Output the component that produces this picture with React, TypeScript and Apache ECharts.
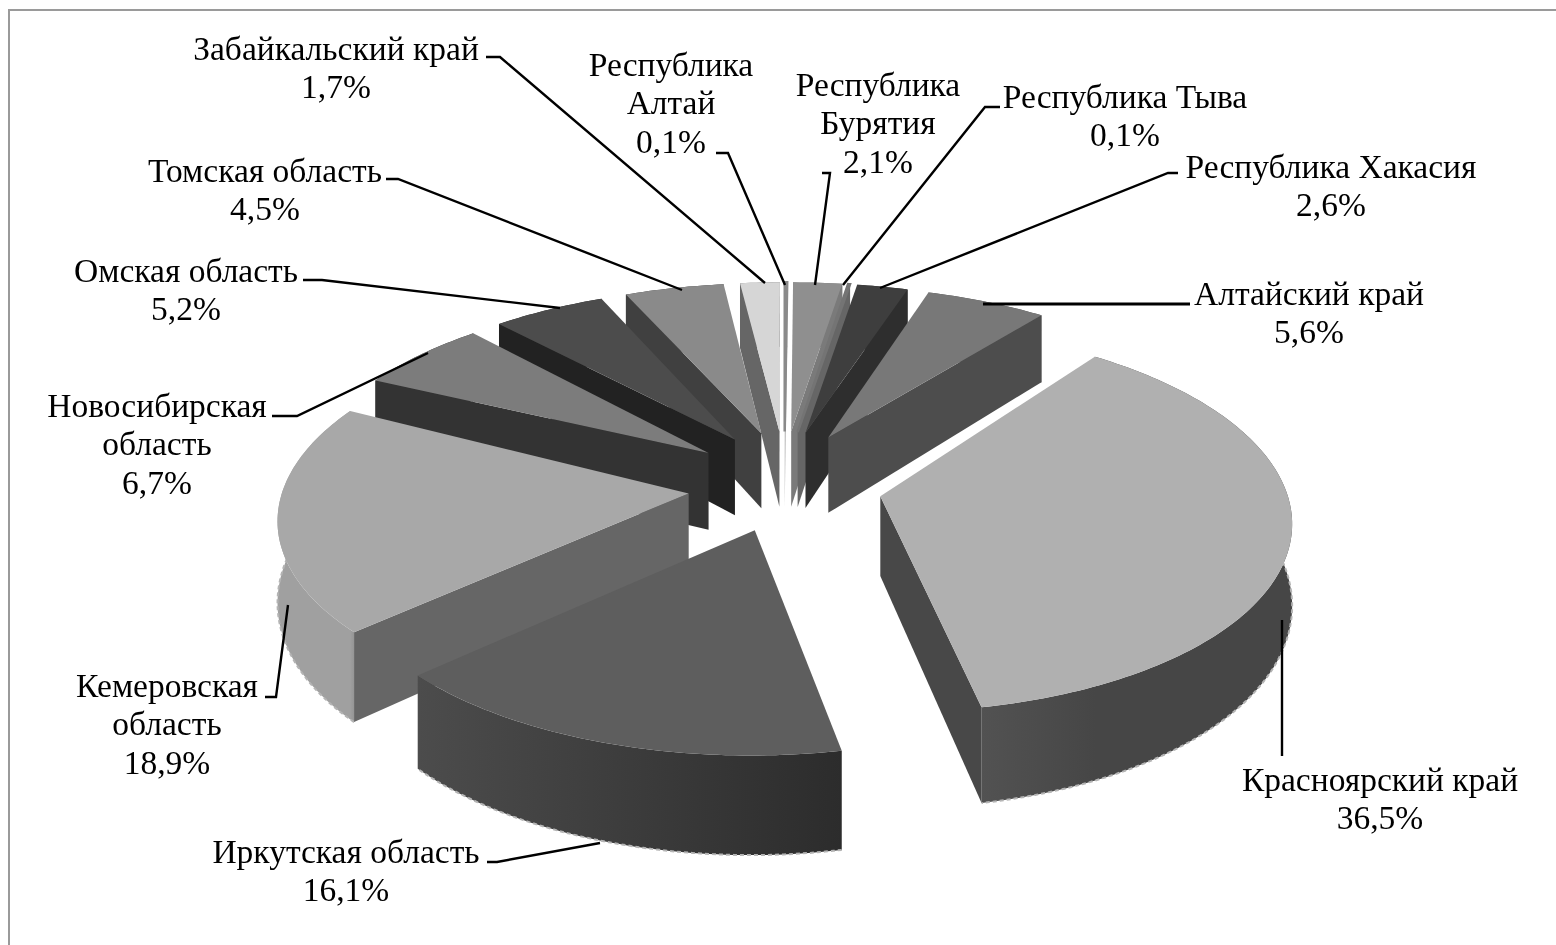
import React, { useEffect, useRef } from "react";
import * as echarts from "echarts";

// Clockwise from the top of the pie
const regionLabels: string[][] = [
  ["Республика", "Бурятия"],
  ["Республика Тыва"],
  ["Республика Хакасия"],
  ["Алтайский край"],
  ["Красноярский край"],
  ["Иркутская область"],
  ["Кемеровская", "область"],
  ["Новосибирская", "область"],
  ["Омская область"],
  ["Томская область"],
  ["Забайкальский край"],
  ["Республика", "Алтай"],
];
const shares: number[] = [2.1, 0.1, 2.6, 5.6, 36.5, 16.1, 18.9, 6.7, 5.2, 4.5, 1.7, 0.1];

// Styles per slice
const topColors = ["#8f8f8f", "#747474", "#3e3e3e", "#787878", "#b0b0b0", "#5e5e5e", "#a8a8a8", "#7c7c7c", "#4c4c4c", "#8a8a8a", "#d6d6d6", "#8a8a8a"];
const wallColors = ["#7a7a7a", "#666666", "#2e2e2e", "#4d4d4d", "#484848", "#666666", "#666666", "#333333", "#222222", "#404040", "#666666", "#b8b8b8"];
const outerLeft = ["#7a7a7a", "#666666", "#2e2e2e", "#4d4d4d", "#525252", "#4c4c4c", "#a0a0a0", "#333333", "#222222", "#404040", "#666666", "#b8b8b8"];
const outerRight = ["#7a7a7a", "#666666", "#2e2e2e", "#4d4d4d", "#464646", "#2c2c2c", "#929292", "#333333", "#222222", "#404040", "#666666", "#b8b8b8"];

// Label layout: centre x, first-line centre y
const labelX = [878, 1125, 1331, 1309, 1380, 346, 167, 157, 186, 265, 336, 671];
const labelY = [84, 96, 166, 293, 779, 851, 685, 405, 270, 170, 48, 64];
const leaderPoints: number[][][] = [
  [[822, 173], [830, 173], [815, 285]],
  [[1000, 107], [985, 107], [843, 285]],
  [[1178, 173], [1168, 173], [880, 288]],
  [[1190, 304], [983, 304]],
  [[1282, 620], [1282, 756]],
  [[487, 862], [497, 862], [600, 843]],
  [[265, 697], [276, 697], [288, 605]],
  [[272, 416], [297, 416], [428, 353]],
  [[303, 280], [322, 280], [560, 308]],
  [[386, 179], [398, 179], [682, 290]],
  [[486, 57], [500, 57], [765, 283]],
  [[716, 153], [728, 153], [785, 285]],
];

// Projection of the tilted pie
const CX = 785, CY = 486, SX = 405, SY = 188, DEPTH = 8.6, HEIGHT = 79, EXPLODE = 0.24, BACK_APEX = 1.25;
const LINE_H = 38.5;
const FONT = "'Liberation Serif', 'Times New Roman', serif";
// The picture's view is slightly skewed: how far the rim's angle drifts from the true one
const warpAt = [6, 21, 39, 106, 169, 228, 295, 321, 341, 356, 366];
const warpBy = [1, -0.7, -0.7, -0.5, 0.2, 1.1, 2.7, 0, 0, 0, 1];

const warp = (deg: number) => {
  const d = deg < 6 ? deg + 360 : deg;
  for (let k = 0; k < warpAt.length - 1; k++) {
    if (d <= warpAt[k + 1]) {
      const t = (d - warpAt[k]) / (warpAt[k + 1] - warpAt[k]);
      return deg + warpBy[k] + t * (warpBy[k + 1] - warpBy[k]);
    }
  }
  return deg + 1;
};

const total = shares.reduce((a, b) => a + b, 0);
const rad = (d: number) => (d * Math.PI) / 180;
const project = (u: number, v: number, z: number): [number, number] => {
  const w = 1 / (1 - v / DEPTH);
  return [CX + SX * u * w, CY + SY * v * w + HEIGHT * z * Math.pow(w, 1.5)];
};
const spans = (() => {
  let acc = 0;
  return shares.map((s) => {
    const a0 = acc;
    acc += (s / total) * 360;
    return [a0, acc];
  });
})();
const depthOf = (i: number) => -Math.cos(rad((spans[i][0] + spans[i][1]) / 2));
const drawOrder = shares.map((_, i) => i).sort((a, b) => depthOf(a) - depthOf(b));

function renderSlice(_: any, api: any) {
  const i = api.value(0) as number;
  const [a0, a1] = spans[i];
  const mid = rad((a0 + a1) / 2);
  const ax = EXPLODE * Math.sin(mid), ay = -EXPLODE * Math.cos(mid);
  const steps = Math.max(2, Math.ceil(a1 - a0));
  const rim = (z: number) => {
    const out: [number, number][] = [];
    for (let k = 0; k <= steps; k++) {
      const t = rad(warp(a0 + ((a1 - a0) * k) / steps));
      out.push(project(ax + Math.sin(t), ay - Math.cos(t), z));
    }
    return out;
  };
  const topRim = rim(0), botRim = rim(1);
  const apexV = ay < 0 ? ay * BACK_APEX : ay;
  const apexT = project(ax, apexV, 0), apexB = project(ax, apexV, 1);
  const last = topRim.length - 1;
  const outerFill = {
    type: "linear", global: true,
    x: Math.min(topRim[0][0], topRim[last][0]), y: 0,
    x2: Math.max(topRim[0][0], topRim[last][0]) + 1, y2: 0,
    colorStops: [{ offset: 0, color: outerLeft[i] }, { offset: 1, color: outerRight[i] }],
  };
  const children: any[] = [
    { type: "polygon", shape: { points: [...topRim, ...botRim.slice().reverse()] }, style: { fill: outerFill } },
    { type: "polyline", shape: { points: botRim }, style: { fill: "none", stroke: "#b4b4b4", lineWidth: 2, lineDash: [4, 3] } },
  ];
  // A radial wall faces the viewer only on the side away from the slice's own body
  if (topRim[0][0] < apexT[0]) {
    children.push({ type: "polygon", shape: { points: [apexT, topRim[0], botRim[0], apexB] }, style: { fill: wallColors[i] } });
  }
  if (topRim[last][0] > apexT[0]) {
    children.push({ type: "polygon", shape: { points: [apexT, topRim[last], botRim[last], apexB] }, style: { fill: wallColors[i] } });
  }
  // Hair-thin slices still need to show as a strip
  children.push({
    type: "polygon", shape: { points: [apexT, ...topRim] },
    style: { fill: topColors[i], stroke: topColors[i], lineWidth: shares[i] < 0.5 ? 2.5 : 0 },
  });
  return { type: "group", children };
}

const fmt = (v: number) => v.toFixed(1).replace(".", ",") + "%";

export default function App() {
  const ref = useRef<HTMLDivElement>(null);
  useEffect(() => {
    if (!ref.current) return;
    const chart = echarts.init(ref.current, undefined, { renderer: "svg" });
    const graphics: any[] = [
      { type: "rect", shape: { x: 9, y: 10, width: 1600, height: 1000 }, style: { fill: "#fff", stroke: "#9a9a9a", lineWidth: 2 }, z: -10 },
    ];
    regionLabels.forEach((lines, i) => {
      [...lines, fmt(shares[i])].forEach((t, k) => {
        graphics.push({
          type: "text", x: labelX[i], y: labelY[i] + k * LINE_H, z: 20,
          style: { text: t, fill: "#000", font: `33.5px ${FONT}`, align: "center", verticalAlign: "middle" },
        });
      });
      graphics.push({
        type: "polyline", z: 20, shape: { points: leaderPoints[i] },
        style: { stroke: "#000", lineWidth: i === 3 ? 3 : 2.4, fill: "none" },
      });
    });
    chart.setOption({
      animation: false,
      graphic: { elements: graphics },
      series: [
        {
          type: "custom", coordinateSystem: "none", silent: true, z: 5,
          data: drawOrder.map((i) => [i, shares[i]]),
          renderItem: renderSlice,
        },
      ],
    });
    return () => chart.dispose();
  }, []);
  return <div ref={ref} style={{ position: "absolute", left: 0, top: 0, width: 1556, height: 945, filter: "blur(0.4px)" }} />;
}
